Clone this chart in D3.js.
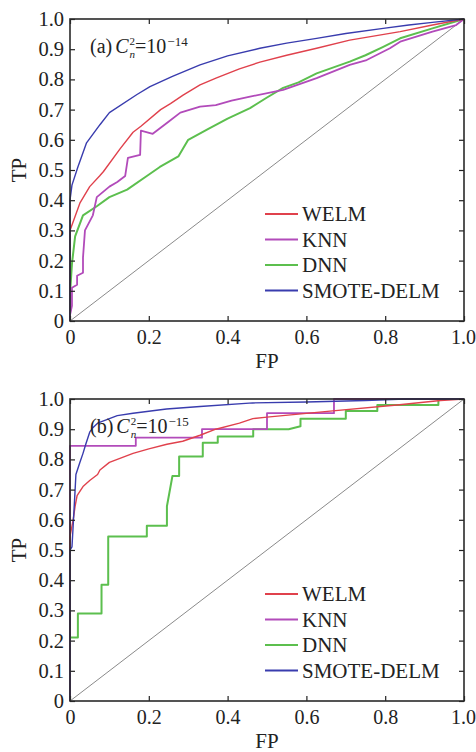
<!DOCTYPE html>
<html>
<head>
<meta charset="utf-8">
<script src="https://cdn.jsdelivr.net/npm/d3@7"></script>
<style>
  body { margin: 0; background: #fff; }
  text { font-family: "Liberation Serif", "Times New Roman", serif; fill: #222; }
</style>
</head>
<body>
<svg id="chart" width="476" height="752"></svg>
<script>
// axis ticks
const fpTicks = [0, 0.2, 0.4, 0.6, 0.8, 1.0];
const tpTicks = [0, 0.1, 0.2, 0.3, 0.4, 0.5, 0.6, 0.7, 0.8, 0.9, 1.0];
const seriesNames = ["WELM", "KNN", "DNN", "SMOTE-DELM"];
const seriesColors = ["#e0414c", "#b24bba", "#5cbf4e", "#393cae"];

// panel (a) C_n^2 = 10^-14, points are [FP, TP]
const welmA = [[0,0],[0,0.30],[0.025,0.39],[0.05,0.445],[0.075,0.48],[0.085,0.495],[0.127,0.57],[0.16,0.625],[0.18,0.645],[0.23,0.70],[0.255,0.72],[0.287,0.748],[0.33,0.782],[0.372,0.805],[0.43,0.835],[0.482,0.857],[0.55,0.88],[0.626,0.903],[0.71,0.93],[0.838,0.958],[0.92,0.98],[1,1]];
const knnA = [[0,0],[0,0.02],[0.005,0.05],[0.005,0.11],[0.018,0.12],[0.018,0.15],[0.033,0.16],[0.033,0.21],[0.038,0.30],[0.058,0.35],[0.068,0.41],[0.10,0.445],[0.12,0.46],[0.14,0.48],[0.147,0.54],[0.178,0.55],[0.18,0.63],[0.21,0.62],[0.23,0.64],[0.25,0.66],[0.28,0.69],[0.33,0.71],[0.37,0.715],[0.41,0.73],[0.457,0.743],[0.541,0.765],[0.626,0.804],[0.71,0.848],[0.753,0.864],[0.812,0.903],[0.838,0.925],[0.92,0.958],[0.98,0.98],[1,1]];
const dnnA = [[0,0],[0,0.09],[0.005,0.19],[0.013,0.28],[0.033,0.35],[0.068,0.38],[0.10,0.41],[0.145,0.435],[0.195,0.48],[0.228,0.51],[0.275,0.545],[0.30,0.60],[0.35,0.635],[0.40,0.67],[0.457,0.705],[0.50,0.74],[0.541,0.772],[0.58,0.79],[0.626,0.82],[0.71,0.859],[0.75,0.88],[0.795,0.908],[0.838,0.936],[0.92,0.969],[1,1]];
const smoteA = [[0,0],[0,0.40],[0.005,0.45],[0.02,0.51],[0.042,0.59],[0.076,0.65],[0.10,0.69],[0.17,0.75],[0.203,0.776],[0.26,0.81],[0.33,0.848],[0.40,0.878],[0.482,0.903],[0.55,0.92],[0.626,0.936],[0.70,0.952],[0.795,0.969],[0.86,0.98],[0.92,0.989],[1,1]];

// panel (b) C_n^2 = 10^-15
const welmB = [[0,0],[0,0.545],[0.008,0.60],[0.013,0.645],[0.018,0.68],[0.033,0.71],[0.05,0.73],[0.07,0.75],[0.076,0.765],[0.10,0.79],[0.16,0.82],[0.20,0.835],[0.246,0.85],[0.286,0.86],[0.33,0.88],[0.37,0.90],[0.43,0.92],[0.464,0.935],[0.50,0.94],[0.66,0.96],[0.83,0.98],[0.94,0.995],[1,1]];
const knnB = [[0,0],[0,0.845],[0.167,0.845],[0.167,0.872],[0.335,0.872],[0.335,0.90],[0.50,0.90],[0.50,0.953],[0.67,0.953],[0.67,1],[1,1]];
const dnnB = [[0,0],[0,0.21],[0.02,0.21],[0.02,0.29],[0.08,0.29],[0.08,0.385],[0.097,0.385],[0.097,0.545],[0.195,0.545],[0.195,0.58],[0.246,0.58],[0.246,0.645],[0.26,0.745],[0.277,0.745],[0.277,0.81],[0.337,0.81],[0.337,0.855],[0.375,0.855],[0.375,0.876],[0.465,0.876],[0.465,0.90],[0.555,0.90],[0.585,0.91],[0.585,0.935],[0.70,0.935],[0.70,0.96],[0.78,0.96],[0.78,0.98],[0.935,0.98],[0.935,1],[1,1]];
const smoteB = [[0,0],[0,0.50],[0.005,0.51],[0.008,0.58],[0.013,0.70],[0.015,0.75],[0.025,0.79],[0.033,0.82],[0.04,0.85],[0.05,0.89],[0.058,0.905],[0.07,0.92],[0.09,0.93],[0.12,0.945],[0.16,0.953],[0.245,0.967],[0.33,0.975],[0.464,0.987],[0.60,0.99],[0.75,0.995],[0.85,1],[1,1]];

const panels = [
  { tag: "(a)", exp: "\u221214", top: 19, series: [welmA, knnA, dnnA, smoteA] },
  { tag: "(b)", exp: "\u221215", top: 399, series: [welmB, knnB, dnnB, smoteB] }
];

const svg = d3.select("#chart");
const left = 70, right = 464, plotH = 302;
const widths = [1.4, 1.8, 2, 1.4];
const drawOrder = [2, 1, 0, 3];

const x = d3.scaleLinear().domain([0, 1]).range([left, right]);

panels.forEach(p => {
  const y = d3.scaleLinear().domain([0, 1]).range([p.top + plotH, p.top]);
  const g = svg.append("g");
  const line = d3.line().x(d => x(d[0])).y(d => y(d[1]));

  // chance diagonal
  g.append("path")
    .datum([[0, 0], [1, 1]])
    .attr("d", line)
    .attr("fill", "none")
    .attr("stroke", "#8a8a8a")
    .attr("stroke-width", 1);

  drawOrder.forEach(i => {
    g.append("path")
      .datum(p.series[i])
      .attr("d", line)
      .attr("fill", "none")
      .attr("stroke", seriesColors[i])
      .attr("stroke-width", widths[i])
      .attr("stroke-linejoin", "round");
  });

  // axes with inward ticks on all sides
  const fmt = d => d === 0 ? "0" : d3.format(".1f")(d);
  const bottomAxis = g.append("g").attr("transform", `translate(0,${p.top + plotH})`)
    .call(d3.axisBottom(x).tickValues(fpTicks).tickSizeInner(-5).tickSizeOuter(0).tickPadding(9).tickFormat(fmt));
  const leftAxis = g.append("g").attr("transform", `translate(${left},0)`)
    .call(d3.axisLeft(y).tickValues(tpTicks).tickSizeInner(-5).tickSizeOuter(0).tickPadding(6).tickFormat(fmt));
  const topAxis = g.append("g").attr("transform", `translate(0,${p.top})`)
    .call(d3.axisTop(x).tickValues(fpTicks).tickSizeInner(-5).tickSizeOuter(0).tickFormat(""));
  const rightAxis = g.append("g").attr("transform", `translate(${right},0)`)
    .call(d3.axisRight(y).tickValues(tpTicks).tickSizeInner(-5).tickSizeOuter(0).tickFormat(""));

  [bottomAxis, leftAxis, topAxis, rightAxis].forEach(a => {
    a.select(".domain").remove();
    a.selectAll("line").attr("stroke", "#222").attr("stroke-width", 1.2);
    a.selectAll("text").attr("font-size", 20.5).attr("fill", "#222")
      .style("font-family", "'Liberation Serif', 'Times New Roman', serif");
  });
  bottomAxis.selectAll("text").attr("font-size", 20).attr("dy", "0.68em");
  // last x label sits flush with the page edge
  bottomAxis.selectAll(".tick:last-of-type text").attr("dx", -1);

  g.append("rect")
    .attr("x", left).attr("y", p.top)
    .attr("width", right - left).attr("height", plotH)
    .attr("fill", "none").attr("stroke", "#2a2a2a").attr("stroke-width", 1.6);

  // axis titles
  g.append("text")
    .attr("x", (left + right) / 2).attr("y", p.top + plotH + 47)
    .attr("text-anchor", "middle").attr("font-size", 21).text("FP");
  g.append("text")
    .attr("transform", `translate(26,${p.top + plotH / 2}) rotate(-90)`)
    .attr("text-anchor", "middle").attr("font-size", 21).text("TP");

  // panel title: (a) C_n^2=10^-14
  const tx = 90, ty = p.top + 34;
  const t1 = g.append("text").attr("x", tx).attr("y", ty).attr("font-size", 20).text(p.tag + " ");
  let cx = tx + t1.node().getComputedTextLength() + 3;
  const t2 = g.append("text").attr("x", cx).attr("y", ty).attr("font-size", 20)
    .attr("font-style", "italic").text("C");
  cx += t2.node().getComputedTextLength() + 1;
  const sup = g.append("text").attr("x", cx).attr("y", ty - 8).attr("font-size", 11).text("2");
  const sub = g.append("text").attr("x", cx).attr("y", ty + 5).attr("font-size", 11)
    .attr("font-style", "italic").text("n");
  cx += Math.max(sup.node().getComputedTextLength(), sub.node().getComputedTextLength());
  const t3 = g.append("text").attr("x", cx).attr("y", ty).attr("font-size", 20).text("=10");
  cx += t3.node().getComputedTextLength() + 1;
  g.append("text").attr("x", cx).attr("y", ty - 7).attr("font-size", 13).text(p.exp);

  // legend
  const legend = g.append("g").attr("transform", `translate(265,${p.top + 195})`);
  seriesNames.forEach((name, i) => {
    const row = legend.append("g").attr("transform", `translate(0,${i * 25.5})`);
    row.append("line").attr("x1", 0).attr("x2", 33).attr("y1", 0).attr("y2", 0)
      .attr("stroke", seriesColors[i]).attr("stroke-width", 2);
    row.append("text").attr("x", 37).attr("y", 7).attr("font-size", 21).text(name);
  });
});
</script>
</body>
</html>
